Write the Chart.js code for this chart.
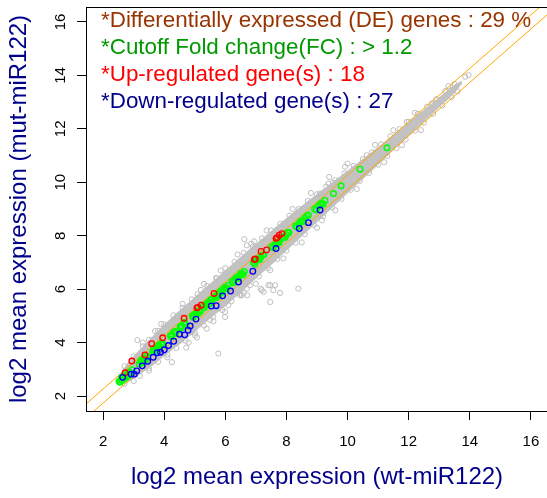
<!DOCTYPE html>
<html>
<head>
<meta charset="utf-8">
<script src="https://cdn.jsdelivr.net/npm/chart.js@4.4.1/dist/chart.umd.min.js"></script>
<style>
  html, body { margin: 0; padding: 0; background: #fff; overflow: hidden; }
  #wrap { width: 560px; height: 498px; }
</style>
</head>
<body>
<div id="wrap"><canvas id="c" width="560" height="498"></canvas></div>
<script>
// ---------------- data ----------------
const xTicks = [2, 4, 6, 8, 10, 12, 14, 16];
const yTicks = [2, 4, 6, 8, 10, 12, 14, 16];
const axisMin = 1.44, axisMax = 16.56;

const xTitle = 'log2 mean expression (wt-miR122)';
const yTitle = 'log2 mean expression (mut-miR122)';
const notes = [
  '*Differentially expressed (DE) genes : 29 %',
  '*Cutoff Fold change(FC) : > 1.2',
  '*Up-regulated gene(s) : 18',
  '*Down-regulated gene(s) : 27'
];

// dense core of the gray cloud (outline)
const bandX      = [2.45, 2.6, 2.8, 3.0, 3.3, 3.6, 4.0, 4.5, 5.0, 5.5, 6.0, 6.5, 7.0, 7.5, 8.0, 8.5, 9.0, 9.5, 10.0, 10.5, 11.0, 11.5, 12.0, 12.5, 13.0, 13.5, 13.75];
const bandUpperY = [2.45, 2.9, 3.24, 3.5, 3.86, 4.22, 4.68, 5.2, 5.71, 6.21, 6.71, 7.21, 7.7, 8.18, 8.66, 9.12, 9.56, 10.0, 10.44, 10.88, 11.32, 11.78, 12.25, 12.71, 13.19, 13.65, 13.8];
const bandLowerY = [2.45, 2.46, 2.52, 2.64, 2.88, 3.12, 3.5, 3.93, 4.4, 4.89, 5.36, 5.87, 6.39, 6.9, 7.44, 7.97, 8.5, 9.04, 9.58, 10.11, 10.65, 11.2, 11.74, 12.27, 12.8, 13.33, 13.7];

// individual gray points (edges of the cloud and outliers)
const grayX = [3.12, 4.25, 4.72, 5.07, 5.77, 4.88, 3.70, 4.41, 5.09, 5.99, 6.48, 6.62, 7.41, 7.16, 7.25, 5.72, 6.72, 5.99, 5.61, 5.39, 5.01, 7.47, 7.19, 7.47, 7.63, 7.57, 7.79, 8.39, 7.47, 6.70, 6.54, 6.94, 6.70, 7.96, 8.28, 9.37, 9.10, 9.16, 11.50, 11.78, 9.92, 10.63, 9.52, 12.76, 11.94, 13.96, 13.85,
  2.7, 3.0, 3.3, 3.5, 3.8, 4.0, 4.3, 4.6, 4.9, 5.2, 5.4, 5.7, 6.0, 6.3, 6.6, 6.9, 7.2, 7.5, 7.8, 8.1, 8.4, 8.7, 9.0, 9.3, 9.6, 9.9, 10.2, 10.5, 10.8, 11.1, 11.4, 11.7, 12.0, 12.3, 12.6, 12.9, 13.2, 13.5,
  2.7, 3.0, 3.2, 3.5, 3.8, 4.1, 4.4, 4.7, 5.0, 5.3, 5.6, 5.9, 6.2, 6.5, 6.8, 7.1, 7.4, 7.7, 8.0, 8.3, 8.6, 8.9, 9.2, 9.5, 9.8, 10.1, 10.4, 10.7, 11.0, 11.3, 11.6, 11.9, 12.2, 12.5, 12.8, 13.1, 13.4,
  3.3, 3.5, 3.9, 4.1, 4.6, 4.8, 5.3, 5.5, 5.85, 6.1, 6.4, 6.6, 6.85, 7.0, 7.35, 7.9, 8.2, 8.5, 8.8, 9.0, 9.4, 9.6, 10.0, 10.3, 10.9, 11.2, 12.2, 12.4, 13.3, 13.6];
const grayY = [4.09, 3.27, 3.81, 4.19, 3.59, 4.40, 4.43, 4.94, 5.81, 4.96, 5.77, 7.87, 6.15, 6.02, 5.90, 6.40, 5.77, 5.15, 4.80, 4.52, 4.27, 6.71, 5.96, 6.15, 6.15, 5.96, 5.86, 6.02, 5.52, 6.02, 5.77, 7.79, 7.64, 8.43, 8.73, 9.95, 9.58, 8.58, 11.95, 11.39, 10.58, 11.01, 9.99, 12.95, 12.26, 14.01, 13.95,
  3.12, 3.48, 3.86, 4.1, 4.44, 4.68, 5.02, 5.3, 5.62, 5.97, 6.12, 6.42, 6.78, 7.02, 7.36, 7.6, 7.9, 8.2, 8.45, 8.75, 9.0, 9.3, 9.55, 9.84, 10.08, 10.33, 10.62, 10.87, 11.12, 11.42, 11.72, 11.99, 12.26, 12.56, 12.83, 13.11, 13.41, 13.68,
  2.46, 2.56, 2.75, 3.04, 3.28, 3.55, 3.8, 4.07, 4.37, 4.64, 4.97, 5.22, 5.55, 5.83, 6.15, 6.48, 6.78, 7.13, 7.44, 7.74, 8.06, 8.4, 8.73, 9.06, 9.38, 9.72, 10.05, 10.35, 10.66, 10.98, 11.28, 11.6, 11.93, 12.23, 12.56, 12.87, 13.19,
  4.0, 2.95, 4.7, 3.45, 5.45, 4.0, 6.2, 4.85, 6.7, 5.4, 7.3, 5.85, 7.7, 6.2, 8.2, 7.15, 9.0, 7.75, 9.6, 8.3, 10.2, 8.95, 10.7, 9.75, 11.4, 10.75, 12.6, 11.95, 13.6, 13.4];

// fold-change cutoff lines (log2(1.2) = 0.263 above / below the diagonal)
const fcUpX = [1.0, 17.0];
const fcUpY = [1.263, 17.263];
const fcDownX = [1.0, 17.0];
const fcDownY = [0.737, 16.737];

// genes passing the cutoff (green)
const greenX = [2.52, 2.58, 2.62, 2.66, 2.70, 2.75, 2.80, 2.85, 2.90, 2.60, 2.95, 3.18, 3.22, 3.28, 3.32, 3.38, 3.42, 3.62, 3.68, 3.72, 3.78, 3.85, 3.90, 3.96, 4.20, 4.26, 4.32, 4.38, 4.52, 4.58, 4.64, 4.70, 4.92, 4.98, 5.04, 5.10, 5.14, 5.28, 5.34, 5.40, 5.46, 5.52, 5.58, 5.68, 5.74, 5.80, 5.86, 5.94, 6.02, 6.08, 6.22, 6.30, 6.38, 6.46, 6.54, 6.62, 6.92, 7.00, 7.08, 7.16, 7.26, 7.52, 7.62, 7.72, 7.80, 7.90, 8.00, 8.08, 8.30, 8.40, 8.50, 8.60, 8.72, 8.92, 9.04, 9.16, 9.26, 9.54, 9.79, 10.41, 11.29,
  2.55, 2.68, 2.78, 2.88, 3.25, 3.35, 3.45, 3.65, 3.75, 3.82, 3.93, 4.23, 4.35, 4.55, 4.67, 4.95, 5.07, 5.18, 5.31, 5.43, 5.55, 5.71, 5.83, 5.90, 5.98, 6.05, 6.26, 6.34, 6.42, 6.50, 6.58, 6.96, 7.04, 7.12, 7.22, 7.57, 7.67, 7.76, 7.85, 7.95, 8.04, 8.35, 8.45, 8.55, 8.66, 8.98, 9.10, 9.20];
const greenY = [2.55, 2.62, 2.58, 2.72, 2.66, 2.80, 2.76, 2.90, 2.86, 2.70, 2.98, 3.20, 3.30, 3.25, 3.40, 3.36, 3.50, 3.66, 3.74, 3.70, 3.86, 3.82, 3.96, 3.92, 4.26, 4.30, 4.40, 4.35, 4.60, 4.62, 4.72, 4.68, 5.00, 5.04, 5.10, 5.08, 5.20, 5.36, 5.40, 5.46, 5.44, 5.60, 5.64, 5.74, 5.80, 5.78, 5.94, 6.00, 6.06, 6.14, 6.30, 6.34, 6.44, 6.50, 6.60, 6.66, 7.00, 7.06, 7.12, 7.20, 7.30, 7.60, 7.66, 7.76, 7.86, 7.94, 8.04, 8.12, 8.36, 8.44, 8.56, 8.66, 8.78, 9.00, 9.10, 9.22, 9.32, 9.58, 9.87, 10.49, 11.29,
  2.52, 2.75, 2.72, 2.84, 3.34, 3.30, 3.44, 3.72, 3.80, 3.90, 3.99, 4.22, 4.42, 4.55, 4.75, 4.95, 5.15, 5.16, 5.30, 5.50, 5.52, 5.69, 5.90, 5.88, 6.06, 6.02, 6.24, 6.42, 6.40, 6.58, 6.55, 6.94, 7.12, 7.10, 7.28, 7.55, 7.75, 7.74, 7.93, 7.93, 8.12, 8.33, 8.52, 8.53, 8.74, 8.96, 9.18, 9.18];

// up-regulated (red)
const upX = [2.72, 2.94, 3.37, 3.59, 3.95, 4.65, 5.07, 5.21, 5.63, 6.95, 7.17, 7.35, 7.66, 7.76, 7.85, 6.98, 5.10, 7.70];
const upY = [2.87, 3.31, 3.54, 3.96, 4.18, 4.91, 5.30, 5.40, 5.84, 7.11, 7.41, 7.47, 7.90, 8.02, 8.08, 7.13, 5.32, 7.93];

// down-regulated (blue)
const downX = [2.92, 3.02, 3.10, 3.28, 3.46, 3.77, 3.88, 4.00, 4.14, 4.31, 4.50, 4.67, 4.85, 5.04, 5.54, 5.70, 5.91, 6.17, 6.43, 6.90, 7.66, 8.42, 8.72, 9.10, 2.64, 4.78, 3.64];
const downY = [2.82, 2.82, 2.94, 3.13, 3.30, 3.62, 3.64, 3.73, 3.89, 4.05, 4.31, 4.29, 4.62, 4.88, 5.37, 5.38, 5.75, 5.93, 6.27, 6.67, 7.52, 8.27, 8.49, 8.96, 2.70, 4.46, 3.45];

const zip = (xs, ys) => xs.map((x, i) => ({ x: x, y: ys[i] }));

// ---------------- chart ----------------
const FONT = '"Liberation Sans", Arial, sans-serif';
const TITLE_BLUE = '#00008B';
const noteColors = ['#993300', '#009900', '#FF0000', '#00008B'];

const decor = {
  id: 'decor',
  afterDraw(chart) {
    const { ctx, chartArea: a, scales } = chart;
    ctx.save();
    // plot box
    ctx.strokeStyle = '#000';
    ctx.lineWidth = 1;
    ctx.strokeRect(Math.round(a.left) + 0.5, Math.round(a.top) + 0.5,
                   Math.round(a.right - a.left), Math.round(a.bottom - a.top));
    // rotated y tick labels
    ctx.fillStyle = '#000';
    ctx.font = '15px ' + FONT;
    ctx.textAlign = 'center';
    ctx.textBaseline = 'middle';
    yTicks.forEach(v => {
      const py = scales.y.getPixelForValue(v);
      ctx.save();
      ctx.translate(61, py);
      ctx.rotate(-Math.PI / 2);
      ctx.fillText(String(v), 0, 0);
      ctx.restore();
    });
    // annotation lines
    ctx.textAlign = 'left';
    ctx.textBaseline = 'alphabetic';
    ctx.font = '22.4px ' + FONT;
    notes.forEach((t, i) => {
      ctx.fillStyle = noteColors[i];
      ctx.fillText(t, 101, 27 + i * 27);
    });
    ctx.restore();
  }
};

const pointDs = (label, data, color, order, r, bw) => ({
  label, data, order,
  type: 'scatter',
  pointStyle: 'circle',
  pointRadius: r,
  pointBorderWidth: bw,
  pointBorderColor: color,
  pointBackgroundColor: 'rgba(0,0,0,0)',
  borderColor: color,
  backgroundColor: 'rgba(0,0,0,0)'
});

new Chart(document.getElementById('c'), {
  type: 'scatter',
  data: {
    datasets: [
      { label: 'bandUpper', type: 'line', data: zip(bandX, bandUpperY), order: 10,
        borderWidth: 0, borderColor: 'rgba(0,0,0,0)', pointRadius: 0, fill: false, tension: 0.2 },
      { label: 'bandLower', type: 'line', data: zip(bandX, bandLowerY), order: 9,
        borderWidth: 0, borderColor: 'rgba(0,0,0,0)', pointRadius: 0, fill: '-1',
        backgroundColor: '#c2c2c2', tension: 0.2 },
      pointDs('gray', zip(grayX, grayY), '#BEBEBE', 8, 2.6, 1),
      { label: 'fcUp', type: 'line', data: zip(fcUpX, fcUpY), order: 7,
        borderColor: '#FFA500', borderWidth: 1, pointRadius: 0, fill: false },
      { label: 'fcDown', type: 'line', data: zip(fcDownX, fcDownY), order: 6,
        borderColor: '#FFA500', borderWidth: 1, pointRadius: 0, fill: false },
      pointDs('green', zip(greenX, greenY), '#00FF00', 5, 2.8, 1.4),
      pointDs('up', zip(upX, upY), '#FF0000', 4, 2.8, 1.3),
      pointDs('down', zip(downX, downY), '#0000FF', 3, 2.8, 1.3)
    ]
  },
  options: {
    responsive: false,
    animation: false,
    devicePixelRatio: 1,
    events: [],
    layout: { padding: { top: 7, right: 12, left: 0, bottom: 0 } },
    plugins: { legend: { display: false }, tooltip: { enabled: false } },
    scales: {
      x: {
        type: 'linear', min: axisMin, max: axisMax,
        afterBuildTicks: ax => { ax.ticks = xTicks.map(v => ({ value: v })); },
        afterFit: ax => { ax.height = 87; },
        grid: { drawOnChartArea: false, drawTicks: true, tickLength: 9, color: '#000', lineWidth: 1 },
        border: { display: true, color: '#000', width: 1 },
        ticks: { color: '#000', font: { size: 15, family: FONT }, padding: 13, maxRotation: 0, autoSkip: false },
        title: { display: true, text: xTitle, color: TITLE_BLUE, font: { size: 24, family: FONT },
                 padding: { top: 0, bottom: 6 } }
      },
      y: {
        type: 'linear', min: axisMin, max: axisMax,
        afterBuildTicks: ax => { ax.ticks = yTicks.map(v => ({ value: v })); },
        afterFit: ax => { ax.width = 86; },
        grid: { drawOnChartArea: false, drawTicks: true, tickLength: 9, color: '#000', lineWidth: 1 },
        border: { display: true, color: '#000', width: 1 },
        ticks: { display: false },
        title: { display: true, text: yTitle, color: TITLE_BLUE, font: { size: 24, family: FONT },
                 padding: { top: 5, bottom: 0 } }
      }
    }
  },
  plugins: [decor]
});
</script>
</body>
</html>
